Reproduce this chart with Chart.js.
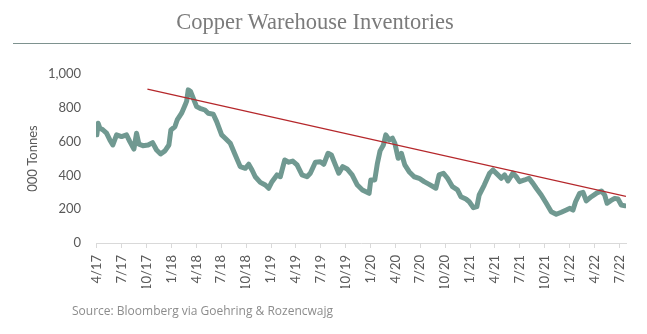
<!DOCTYPE html>
<html>
<head>
<meta charset="utf-8">
<script src="https://cdn.jsdelivr.net/npm/chart.js@4"></script>
<style>
html,body{margin:0;padding:0;background:#fff;}
#wrap{position:relative;width:647px;height:334px;overflow:hidden;background:#fff;}
#c{position:absolute;left:0;top:0;}
#title{position:absolute;left:0;width:630px;top:9px;text-align:center;font-family:"Liberation Serif",serif;font-size:22.5px;color:#7b7b7b;line-height:26px;}
#rule{position:absolute;left:13px;width:618px;top:43px;height:0;border-top:1.5px solid #7e928f;}
#source{position:absolute;left:72px;top:302px;font-family:"Open Sans",sans-serif;font-size:12px;color:#8c8c8c;}
</style>
</head>
<body>
<div id="wrap">
<canvas id="c" width="647" height="334"></canvas>
<div id="title">Copper Warehouse Inventories</div>
<div id="rule"></div>
<div id="source">Source: Bloomberg via Goehring &amp; Rozencwajg</div>
</div>
<script>
// Months elapsed since April 2017
const monthsSinceApr2017 = [
  0.0,0.16,0.36,0.72,1.17,1.57,1.93,2.38,2.98,3.58,3.98,4.47,4.79,5.07,5.55,6.19,6.72,7.20,7.69,8.21,
  8.69,8.93,9.41,9.69,10.22,10.62,10.83,11.02,11.31,11.62,12.03,12.43,13.03,13.43,14.04,14.45,15.05,
  15.48,16.09,16.69,17.29,17.90,18.31,18.71,19.10,19.71,20.31,20.72,21.12,21.72,22.12,22.65,23.14,
  23.62,24.14,24.74,25.34,25.74,26.35,26.95,27.36,27.88,28.28,28.76,29.17,29.65,30.17,30.78,
  31.41,32.02,32.83,33.03,33.51,33.83,34.15,34.55,34.84,35.24,35.64,35.93,36.33,36.72,37.13,37.65,
  38.26,38.86,39.46,40.07,40.88,41.27,41.79,42.28,42.88,43.48,43.89,44.50,44.90,45.41,45.82,46.10,
  46.71,47.35,47.76,48.36,48.76,49.16,49.57,50.17,50.57,50.97,51.57,52.10,52.58,52.98,53.58,54.19,
  54.79,55.39,56.00,56.60,57.00,57.41,57.72,58.21,58.62,59.01,59.62,60.22,60.83,61.23,61.52,61.91,
  62.43,62.84,63.23,63.70
];
// Copper warehouse inventories, thousand tonnes
const inventory = [
  640,708,680,670,650,610,580,640,630,640,600,556,650,585,576,580,594,550,527,545,
  580,669,688,728,768,813,840,906,896,857,807,797,787,768,762,718,640,
  620,590,521,452,442,466,432,392,359,343,324,363,403,392,491,478,
  485,462,403,392,413,478,481,466,531,521,462,413,452,438,403,
  343,314,294,373,373,472,545,580,640,610,620,590,501,531,462,422,
  392,383,363,347,324,403,413,383,333,314,274,260,244,209,215,284,
  343,413,432,403,383,403,367,413,392,363,373,383,353,324,284,235,
  185,170,182,195,205,195,244,294,300,249,274,294,308,284,235,249,
  264,260,225,220
];
// Trend line end points
const trendMonths = [6.1, 63.8];
const trendValues = [911, 276];

const xTickMonths = [0,3,6,9,12,15,18,21,24,27,30,33,36,39,42,45,48,51,54,57,60,63];
const xTickLabels = ["4/17","7/17","10/17","1/18","4/18","7/18","10/18","1/19","4/19","7/19","10/19",
  "1/20","4/20","7/20","10/20","1/21","4/21","7/21","10/21","1/22","4/22","7/22"];
const yTickValues = [0,200,400,600,800,1000];
const yTickLabels = ["0","200","400","600","800","1,000"];

const lineData = monthsSinceApr2017.map((m,i)=>({x:m,y:inventory[i]}));
const trendData = trendMonths.map((m,i)=>({x:m,y:trendValues[i]}));

const labelFont = {family:"Lato", size:13};
new Chart(document.getElementById('c'), {
  type:'line',
  data:{datasets:[
    {data:trendData, borderColor:'#b5272b', borderWidth:1.3, pointRadius:0, tension:0},
    {data:lineData, borderColor:'#709991', borderWidth:5, pointRadius:0, tension:0,
     borderJoinStyle:'round', borderCapStyle:'round'}
  ]},
  options:{
    responsive:false, animation:false, devicePixelRatio:1,
    layout:{padding:{left:21,right:21,top:74,bottom:46}},
    plugins:{legend:{display:false}, tooltip:{enabled:false}, title:{display:false}},
    scales:{
      x:{type:'linear', min:-0.1, max:63.8,
        afterBuildTicks:(s)=>{s.ticks = xTickMonths.map(v=>({value:v}));},
        afterFit:(s)=>{s.height = 45;},
        ticks:{autoSkip:false, minRotation:90, maxRotation:90, padding:7, color:'#595959', font:labelFont,
          callback:(v)=>{const i=xTickMonths.indexOf(v); return i>=0?xTickLabels[i]:'';}},
        grid:{display:true, drawOnChartArea:false, tickLength:5, color:'#d9d9d9'},
        border:{display:true, color:'#d9d9d9'}
      },
      y:{min:0, max:1000,
        afterBuildTicks:(s)=>{s.ticks = yTickValues.map(v=>({value:v}));},
        afterFit:(s)=>{s.width = 75;},
        ticks:{padding:15, color:'#595959', font:labelFont,
          callback:(v)=>{const i=yTickValues.indexOf(v); return i>=0?yTickLabels[i]:'';}},
        grid:{display:false, drawTicks:false},
        border:{display:false},
        title:{display:true, text:'000 Tonnes', color:'#595959', font:labelFont, padding:{top:4,bottom:4}}
      }
    }
  }
});
</script>
</body>
</html>
